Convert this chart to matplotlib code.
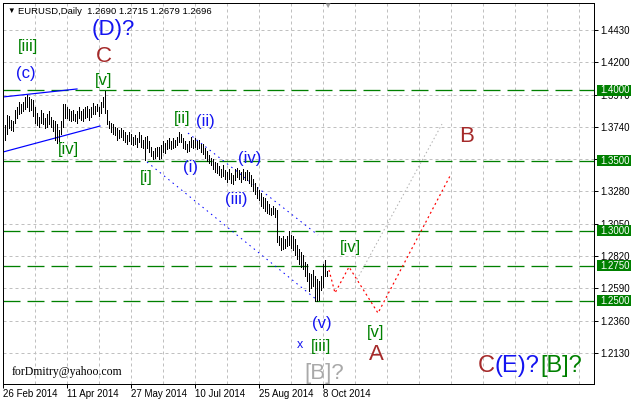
import matplotlib
matplotlib.use("Agg")
import matplotlib.pyplot as plt
from matplotlib.patches import Rectangle
from matplotlib.transforms import blended_transform_factory

# ---------------- data ----------------
highs = [1.3740, 1.3750, 1.3825, 1.3815, 1.3790, 1.3780, 1.3860, 1.3880, 1.3915, 1.3900,
         1.3920, 1.3950, 1.3967, 1.3950, 1.3940, 1.3930, 1.3880, 1.3840, 1.3810, 1.3860,
         1.3840, 1.3800, 1.3830, 1.3850, 1.3810, 1.3790, 1.3780, 1.3760, 1.3720, 1.3780,
         1.3900, 1.3905, 1.3880, 1.3870, 1.3850, 1.3860, 1.3830, 1.3850, 1.3880, 1.3850,
         1.3870, 1.3880, 1.3890, 1.3870, 1.3880, 1.3910, 1.3890, 1.3900, 1.3880, 1.3920,
         1.3950, 1.3993, 1.3860, 1.3780, 1.3770, 1.3760, 1.3740, 1.3730, 1.3720, 1.3735,
         1.3720, 1.3700, 1.3680, 1.3700, 1.3690, 1.3670, 1.3680, 1.3660, 1.3700, 1.3680,
         1.3650, 1.3670, 1.3677, 1.3640, 1.3600, 1.3570, 1.3590, 1.3600, 1.3600, 1.3610,
         1.3640, 1.3625, 1.3650, 1.3660, 1.3640, 1.3660, 1.3650, 1.3670, 1.3700, 1.3690,
         1.3660, 1.3640, 1.3620, 1.3640, 1.3670, 1.3650, 1.3660, 1.3640, 1.3650, 1.3620,
         1.3620, 1.3590, 1.3570, 1.3540, 1.3520, 1.3510, 1.3490, 1.3480, 1.3460, 1.3440,
         1.3470, 1.3430, 1.3420, 1.3440, 1.3410, 1.3400, 1.3440, 1.3450, 1.3430, 1.3420,
         1.3440, 1.3420, 1.3430, 1.3420, 1.3400, 1.3370, 1.3340, 1.3310, 1.3290, 1.3270,
         1.3240, 1.3230, 1.3210, 1.3190, 1.3160, 1.3180, 1.3160, 1.3150, 1.2960, 1.2950,
         1.2960, 1.2940, 1.2960, 1.2995, 1.2970, 1.2960, 1.2940, 1.2900, 1.2870, 1.2850,
         1.2830, 1.2780, 1.2760, 1.2700, 1.2690, 1.2720, 1.2680, 1.2660, 1.2640, 1.2680,
         1.2760, 1.2790, 1.2715]
lows = [1.3650, 1.3645, 1.3690, 1.3730, 1.3720, 1.3710, 1.3770, 1.3800, 1.3830, 1.3840,
        1.3850, 1.3870, 1.3880, 1.3850, 1.3860, 1.3820, 1.3770, 1.3750, 1.3740, 1.3770,
        1.3760, 1.3730, 1.3740, 1.3760, 1.3740, 1.3710, 1.3650, 1.3625, 1.3640, 1.3690,
        1.3740, 1.3800, 1.3800, 1.3790, 1.3780, 1.3790, 1.3780, 1.3770, 1.3800, 1.3790,
        1.3780, 1.3800, 1.3810, 1.3790, 1.3810, 1.3830, 1.3830, 1.3850, 1.3820, 1.3840,
        1.3880, 1.3839, 1.3760, 1.3730, 1.3700, 1.3690, 1.3680, 1.3650, 1.3660, 1.3670,
        1.3650, 1.3630, 1.3620, 1.3640, 1.3620, 1.3610, 1.3620, 1.3600, 1.3630, 1.3600,
        1.3590, 1.3503, 1.3590, 1.3560, 1.3530, 1.3510, 1.3520, 1.3530, 1.3510, 1.3520,
        1.3560, 1.3555, 1.3580, 1.3590, 1.3580, 1.3590, 1.3600, 1.3610, 1.3630, 1.3630,
        1.3590, 1.3580, 1.3560, 1.3570, 1.3600, 1.3590, 1.3600, 1.3580, 1.3590, 1.3560,
        1.3550, 1.3520, 1.3500, 1.3480, 1.3470, 1.3440, 1.3420, 1.3410, 1.3400, 1.3380,
        1.3390, 1.3370, 1.3350, 1.3370, 1.3340, 1.3333, 1.3360, 1.3380, 1.3370, 1.3350,
        1.3370, 1.3360, 1.3360, 1.3340, 1.3320, 1.3280, 1.3260, 1.3230, 1.3220, 1.3180,
        1.3160, 1.3140, 1.3130, 1.3120, 1.3110, 1.3120, 1.3100, 1.2920, 1.2900, 1.2860,
        1.2870, 1.2880, 1.2890, 1.2900, 1.2880, 1.2860, 1.2830, 1.2800, 1.2760, 1.2740,
        1.2730, 1.2680, 1.2640, 1.2570, 1.2590, 1.2610, 1.2500, 1.2500, 1.2510, 1.2580,
        1.2600, 1.2680, 1.2679]

price_ticks = [1.2130, 1.2360, 1.2590, 1.2820, 1.3050, 1.3280, 1.3510, 1.3740, 1.3970, 1.4200, 1.4430]
levels = [1.4000, 1.3500, 1.3000, 1.2750, 1.2500]
date_idx = [0, 32, 64, 96, 128, 160]
date_labels = ["26 Feb 2014", "11 Apr 2014", "27 May 2014", "10 Jul 2014", "25 Aug 2014", "8 Oct 2014"]

# trend / channel lines (bar index, price)
trend_hi_x, trend_hi_y = [0, 37], [1.3953, 1.4010]
trend_lo_x, trend_lo_y = [0, 48.5], [1.3561, 1.3746]
chan_lo_x, chan_lo_y = [72, 157], [1.3490, 1.2507]
chan_hi_x, chan_hi_y = [92.5, 157.5], [1.3696, 1.2970]
fc_red_x = [163, 166, 173, 187.5, 223.5]
fc_red_y = [1.2721, 1.2557, 1.2742, 1.2414, 1.3390]
fc_grey_x, fc_grey_y = [176, 219.5], [1.2628, 1.3760]

GREEN = "#008000"
BLUE = "#1414f0"
RED = "#a52a2a"
GREY = "#a9a9a9"

# wave labels: (text, bar index, price, colour, size)
wave_labels = [
    ("(D)?", 55, 1.4437, BLUE, 16),
    ("C", 50.5, 1.4238, RED, 16),
    ("[v]", 50.5, 1.4067, GREEN, 12),
    ("[iii]", 12.5, 1.4309, GREEN, 12),
    ("(c)", 11.5, 1.4117, BLUE, 12),
    ("[iv]", 32.5, 1.3582, GREEN, 12),
    ("[i]", 71.5, 1.3383, GREEN, 12),
    ("[ii]", 89.5, 1.3803, GREEN, 12),
    ("(ii)", 101, 1.3775, BLUE, 12),
    ("(i)", 94, 1.3454, BLUE, 12),
    ("(iv)", 123.5, 1.3518, BLUE, 12),
    ("(iii)", 116.5, 1.3226, BLUE, 12),
    ("[iv]", 173.5, 1.2884, GREEN, 12),
    ("(v)", 159.5, 1.2343, BLUE, 12),
    ("x", 148.5, 1.2185, BLUE, 9),
    ("[iii]", 159, 1.2179, GREEN, 12),
    ("[B]?", 160.5, 1.1987, GREY, 16),
    ("[v]", 186.5, 1.2279, GREEN, 12),
    ("A", 186.5, 1.2122, RED, 16),
    ("B", 232, 1.3668, RED, 16),
]
# multi coloured label "C(E)?[B]?" (left edges)
multi_parts = [("C", 237.5, RED), ("(E)?", 246, BLUE), ("[B]?", 268.5, GREEN)]
multi_price = 1.2037

PX = 0.72  # one pixel in points
plt.rcParams["font.family"] = ["Liberation Sans", "DejaVu Sans"]
plt.rcParams["lines.scale_dashes"] = False

fig = plt.figure(figsize=(6.31, 4.03), dpi=100)
ax = fig.add_axes([3 / 631, 19 / 403, 591 / 631, 381 / 403])
ax.set_xlim(0, 295.5)
ax.set_ylim(1.19087, 1.46223)

# grid
for t in price_ticks:
    ax.axhline(t, color="#c0c0c0", lw=PX, dashes=(3 * PX, 3 * PX), zorder=0)
for gx in range(16, 296, 16):
    ax.axvline(gx, color="#c0c0c0", lw=PX, dashes=(3 * PX, 3 * PX), zorder=0)

# levels
for lv in levels:
    ax.axhline(lv, color=GREEN, lw=PX * 1.3, dashes=(17 * PX, 7 * PX), zorder=1)

# price bars
ax.vlines(range(len(highs)), lows, highs, color="black", lw=PX, antialiased=False, zorder=3)

# lines
ax.plot(trend_hi_x, trend_hi_y, color="#0000ff", lw=PX * 1.2, zorder=2)
ax.plot(trend_lo_x, trend_lo_y, color="#0000ff", lw=PX * 1.2, zorder=2)
ax.plot(chan_lo_x, chan_lo_y, color="#0000ff", lw=PX, dashes=(1.5 * PX, 4 * PX), zorder=2)
ax.plot(chan_hi_x, chan_hi_y, color="#0000ff", lw=PX, dashes=(1.5 * PX, 4 * PX), zorder=2)
ax.plot(fc_red_x, fc_red_y, color="#ff0000", lw=PX * 1.2, dashes=(2 * PX, 3 * PX), zorder=2)
ax.plot(fc_grey_x, fc_grey_y, color="#b0b0b0", lw=PX, dashes=(1.5 * PX, 2.5 * PX), zorder=2)

# wave labels
for txt, xi, yp, col, fs in wave_labels:
    ax.text(xi, yp, txt, color=col, fontsize=fs, ha="center", va="center", zorder=4)
for txt, xi, col in multi_parts:
    ax.text(xi, multi_price, txt, color=col, fontsize=17, ha="left", va="center", zorder=4)

ax.text(4.5, 1.1994, "forDmitry@yahoo.com", family="Liberation Serif", fontsize=8.5,
        ha="left", va="center", color="black")

# axes styling
for sp in ax.spines.values():
    sp.set_color("black")
    sp.set_linewidth(PX)
ax.yaxis.tick_right()
ax.set_yticks(price_ticks, [f"{t:.4f}" for t in price_ticks])
ax.set_xticks(date_idx, date_labels)
ax.tick_params(axis="both", length=4 * PX, width=PX, labelsize=7, colors="black")
ax.tick_params(axis="y", pad=1.5)
ax.tick_params(axis="x", pad=1)
for lbl in ax.get_xticklabels():
    lbl.set_ha("left")

# green level boxes on the price scale
tr = blended_transform_factory(fig.transFigure, ax.transData)
for lv in levels:
    ax.add_patch(Rectangle((597 / 631, lv - 5.5 / 1404), 34 / 631, 11 / 1404,
                           transform=tr, facecolor=GREEN, edgecolor="none",
                           clip_on=False, zorder=5))
    ax.text(600 / 631, lv, f"{lv:.4f}", transform=tr, color="white", fontsize=7,
            ha="left", va="center", clip_on=False, zorder=6)

# header
fig.text(7 / 631, 1 - 11 / 403, "\u25bc", fontsize=5.5, va="center", ha="left")
fig.text(18 / 631, 1 - 11 / 403, "EURUSD,Daily  1.2690 1.2715 1.2679 1.2696",
         fontsize=6.8, va="center", ha="left")
fig.text(327 / 631, 1 - 6 / 403, "\u25bc", fontsize=6, color="#a0a0a0", va="center", ha="center")

fig.savefig("out.png", dpi=100)
